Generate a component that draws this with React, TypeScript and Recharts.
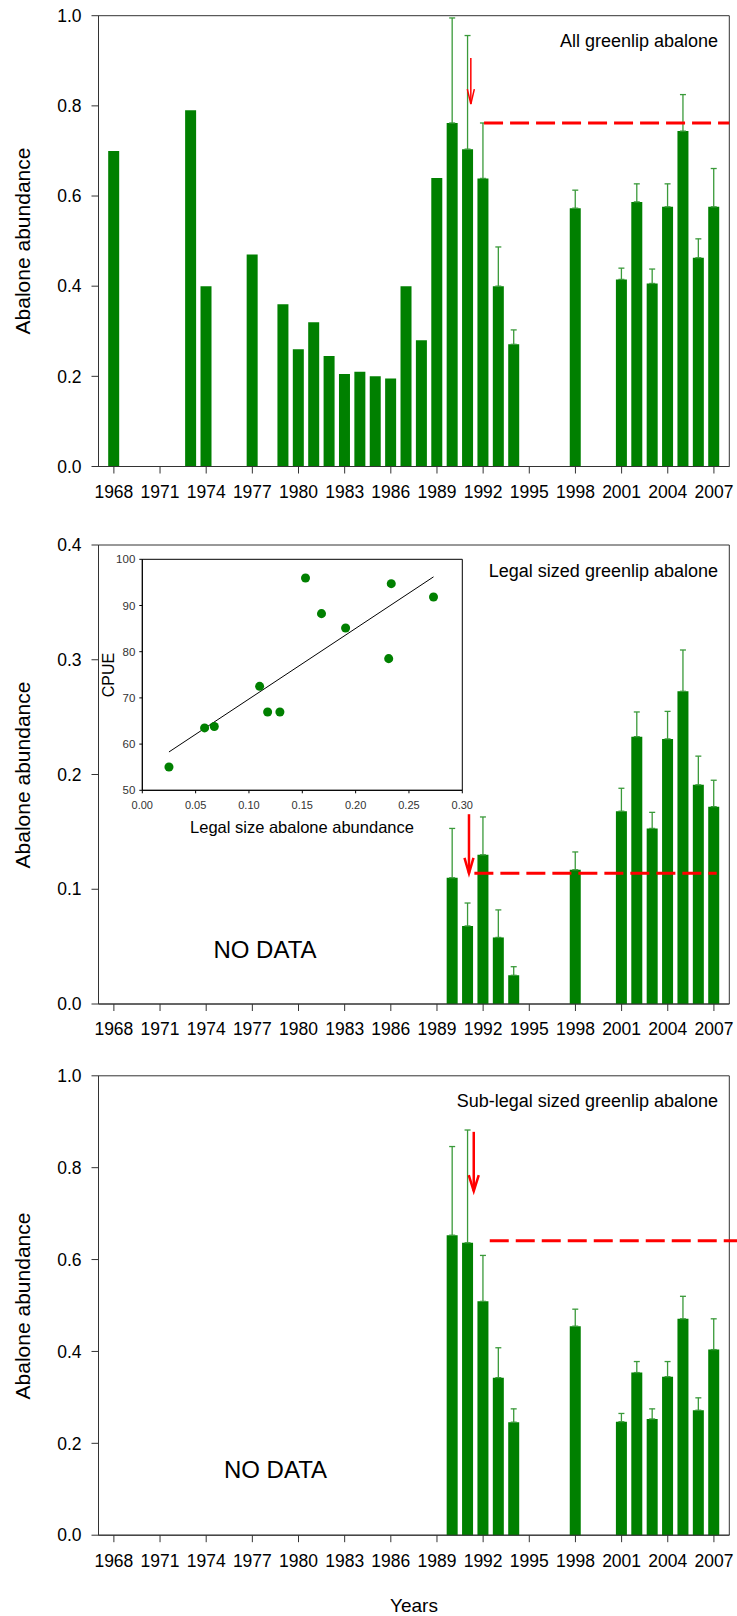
import React from 'react';
import {
  Bar,
  BarChart,
  ErrorBar,
  ReferenceArea,
  ReferenceLine,
  Scatter,
  ScatterChart,
  XAxis,
  YAxis,
  ZAxis,
} from 'recharts';

// x axis of the three bar panels
const yearTicks = [1968, 1971, 1974, 1977, 1980, 1983, 1986, 1989, 1992, 1995, 1998, 2001, 2004, 2007];
const yearDomain = [1967, 2008];

// panel 1: all greenlip abalone
const allYears = [
  1968, 1973, 1974, 1977, 1979, 1980, 1981, 1982, 1983, 1984, 1985, 1986, 1987, 1988, 1989,
  1990, 1991, 1992, 1993, 1994, 1998, 2001, 2002, 2003, 2004, 2005, 2006, 2007,
];
const allValues = [
  0.7, 0.79, 0.4, 0.47, 0.36, 0.26, 0.32, 0.245, 0.205, 0.21, 0.2, 0.195, 0.4, 0.28, 0.64,
  0.762, 0.704, 0.639, 0.4, 0.271, 0.573, 0.415, 0.587, 0.406, 0.576, 0.744, 0.463, 0.576,
];
const allErrors = [
  null, null, null, null, null, null, null, null, null, null, null, null, null, null, null,
  0.233, 0.252, 0.123, 0.087, 0.032, 0.04, 0.025, 0.04, 0.032, 0.051, 0.081, 0.042, 0.085,
];

// panels 2 and 3 share the survey years
const surveyYears = [1990, 1991, 1992, 1993, 1994, 1998, 2001, 2002, 2003, 2004, 2005, 2006, 2007];
const legalValues = [0.11, 0.068, 0.13, 0.058, 0.025, 0.117, 0.168, 0.233, 0.153, 0.231, 0.2725, 0.191, 0.172];
const legalErrors = [0.043, 0.02, 0.033, 0.024, 0.0075, 0.0155, 0.02, 0.0215, 0.014, 0.024, 0.036, 0.025, 0.023];
const subValues = [0.653, 0.6365, 0.509, 0.343, 0.246, 0.455, 0.247, 0.354, 0.253, 0.345, 0.471, 0.272, 0.404];
const subErrors = [0.193, 0.2455, 0.1, 0.065, 0.029, 0.037, 0.018, 0.024, 0.022, 0.033, 0.049, 0.027, 0.067];

// red reference levels (dashed) and arrows: [start year, end year, level]
const allLevel = [1992.06, 2008, 0.762];
const legalLevel = [1991.43, 2007.18, 0.1139];
const subLevel = [1992.43, 2008.5, 0.641];
// arrows: [year, from, to]
const allArrow = [1991.2, 0.906, 0.804];
const legalArrow = [1991.08, 0.1654, 0.1139];
const subArrow = [1991.39, 0.878, 0.749];

// inset: CPUE vs legal size abundance
const insetX = [0.025, 0.0584, 0.0675, 0.11, 0.1175, 0.129, 0.153, 0.168, 0.1906, 0.231, 0.2334, 0.273];
const insetY = [55.05, 63.5, 63.8, 72.5, 66.95, 66.95, 95.96, 88.24, 85.14, 78.5, 94.73, 91.85];
const fitX = [0.025, 0.273];
const fitY = [58.3, 96.2];
const insetXTicks = [0, 0.05, 0.1, 0.15, 0.2, 0.25, 0.3];
const insetYTicks = [50, 60, 70, 80, 90, 100];

const GREEN = '#008000';
const ERR = '#3a9a3a';
const RED = '#ff0000';
const AXIS = '#333';
const FONT = "'Liberation Sans', Arial, sans-serif";

function rows(years: number[], values: number[], errors: (number | null)[]) {
  return years.map((year, i) => ({
    year,
    value: values[i],
    err: errors[i] == null ? null : [0, errors[i]],
  }));
}

function arrowShape(head: number, half: number, width: number) {
  return (props: any) => {
    const { x1, y1, x2, y2 } = props;
    const a = Math.atan2(y2 - y1, x2 - x1);
    const bx = x2 - head * Math.cos(a);
    const by = y2 - head * Math.sin(a);
    const px = -Math.sin(a) * half;
    const py = Math.cos(a) * half;
    return (
      <g>
        <line x1={x1} y1={y1} x2={x2} y2={y2} stroke={RED} strokeWidth={width} />
        <polyline
          points={`${bx + px},${by + py} ${x2},${y2} ${bx - px},${by - py}`}
          fill="none"
          stroke={RED}
          strokeWidth={width}
        />
      </g>
    );
  };
}

interface PanelProps {
  top: number;
  height: number;
  marginTop: number;
  marginBottom: number;
  data: { year: number; value: number; err: number[] | null }[];
  yMax: number;
  yTicks: number[];
  level: number[];
  arrow: number[];
  arrowHead: [number, number, number];
}

function Panel({ top, height, marginTop, marginBottom, data, yMax, yTicks, level, arrow, arrowHead }: PanelProps) {
  return (
    <div style={{ position: 'absolute', left: 0, top }}>
      <BarChart
        width={737}
        height={height}
        data={data}
        margin={{ top: marginTop, right: 7.7, bottom: marginBottom, left: 38.5 }}
      >
        <ReferenceArea x1={yearDomain[0]} x2={yearDomain[1]} y1={0} y2={yMax} fill="none" stroke={AXIS} strokeWidth={1} />
        <XAxis
          dataKey="year"
          type="number"
          domain={yearDomain}
          ticks={yearTicks}
          interval={0}
          allowDataOverflow
          height={40}
          tickSize={7}
          tickMargin={12}
          stroke={AXIS}
          tick={{ fill: '#000', fontSize: 17.5 }}
        />
        <YAxis
          type="number"
          domain={[0, yMax]}
          ticks={yTicks}
          interval={0}
          width={60}
          tickSize={7}
          tickMargin={10}
          stroke={AXIS}
          tick={{ fill: '#000', fontSize: 17.5 }}
          tickFormatter={(v: number) => v.toFixed(1)}
        />
        <Bar dataKey="value" fill={GREEN} barSize={11} isAnimationActive={false}>
          <ErrorBar dataKey="err" direction="y" width={3} stroke={ERR} strokeWidth={1.3} />
        </Bar>
        <ReferenceLine
          segment={[{ x: level[0], y: level[2] }, { x: level[1], y: level[2] }]}
          stroke={RED}
          strokeWidth={3}
          strokeDasharray="19 7"
          ifOverflow="visible"
        />
        <ReferenceLine
          segment={[{ x: arrow[0], y: arrow[1] }, { x: arrow[0], y: arrow[2] }]}
          stroke={RED}
          ifOverflow="visible"
          shape={arrowShape(arrowHead[0], arrowHead[1], arrowHead[2])}
        />
      </BarChart>
    </div>
  );
}

function Inset() {
  const pts = insetX.map((x, i) => ({ x, y: insetY[i] }));
  return (
    <div style={{ position: 'absolute', left: 60, top: 530 }}>
      <ScatterChart width={440} height={320} margin={{ top: 29.3, right: 37.7, bottom: 29.7, left: 42.3 }}>
        <ReferenceArea x1={0} x2={0.3} y1={50} y2={100} fill="none" stroke="#000" strokeWidth={1} />
        <XAxis
          dataKey="x"
          type="number"
          domain={[0, 0.3]}
          ticks={insetXTicks}
          interval={0}
          height={30}
          tickSize={3}
          tickMargin={7.7}
          stroke="#000"
          tick={{ fill: '#333', fontSize: 11 }}
          tickFormatter={(v: number) => v.toFixed(2)}
        />
        <YAxis
          dataKey="y"
          type="number"
          domain={[50, 100]}
          ticks={insetYTicks}
          interval={0}
          width={40}
          tickSize={3}
          tickMargin={4}
          stroke="#000"
          tick={{ fill: '#333', fontSize: 11.5 }}
        />
        <ZAxis range={[30, 30]} />
        <ReferenceLine
          segment={[{ x: fitX[0], y: fitY[0] }, { x: fitX[1], y: fitY[1] }]}
          stroke="#000"
          strokeWidth={1}
        />
        <Scatter data={pts} fill={GREEN} isAnimationActive={false} />
      </ScatterChart>
    </div>
  );
}

export default function App() {
  return (
    <div style={{ position: 'absolute', left: 0, top: 0, width: 737, height: 1616, fontFamily: FONT, background: '#fff' }}>
      <Panel
        top={0}
        height={520}
        marginTop={15.7}
        marginBottom={13.5}
        data={rows(allYears, allValues, allErrors)}
        yMax={1}
        yTicks={[0, 0.2, 0.4, 0.6, 0.8, 1]}
        level={allLevel}
        arrow={allArrow}
        arrowHead={[15, 3.5, 1.5]}
      />
      <Panel
        top={520}
        height={540}
        marginTop={25}
        marginBottom={16}
        data={rows(surveyYears, legalValues, legalErrors)}
        yMax={0.4}
        yTicks={[0, 0.1, 0.2, 0.3, 0.4]}
        level={legalLevel}
        arrow={legalArrow}
        arrowHead={[15.5, 4.5, 2.5]}
      />
      <Panel
        top={1060}
        height={556}
        marginTop={15.8}
        marginBottom={40.8}
        data={rows(surveyYears, subValues, subErrors)}
        yMax={1}
        yTicks={[0, 0.2, 0.4, 0.6, 0.8, 1]}
        level={subLevel}
        arrow={subArrow}
        arrowHead={[16, 5, 2.5]}
      />
      <Inset />
      <svg
        width={737}
        height={1616}
        style={{ position: 'absolute', left: 0, top: 0, pointerEvents: 'none' }}
        fontFamily={FONT}
      >
        <text x={718} y={40.7} textAnchor="end" dominantBaseline="central" fontSize={18} fill="#000">
          All greenlip abalone
        </text>
        <text x={718} y={571.3} textAnchor="end" dominantBaseline="central" fontSize={18} fill="#000">
          Legal sized greenlip abalone
        </text>
        <text x={718} y={1100.7} textAnchor="end" dominantBaseline="central" fontSize={18} fill="#000">
          Sub-legal sized greenlip abalone
        </text>
        <text x={265} y={949} textAnchor="middle" dominantBaseline="central" fontSize={24} fill="#000">
          NO DATA
        </text>
        <text x={275.5} y={1469} textAnchor="middle" dominantBaseline="central" fontSize={24} fill="#000">
          NO DATA
        </text>
        {[241, 775, 1306].map((cy) => (
          <text
            key={cy}
            x={22}
            y={cy}
            transform={`rotate(-90 22 ${cy})`}
            textAnchor="middle"
            dominantBaseline="central"
            fontSize={21}
            fill="#000"
          >
            Abalone abundance
          </text>
        ))}
        <text x={108.5} y={675} transform="rotate(-90 108.5 675)" textAnchor="middle" dominantBaseline="central" fontSize={16} fill="#000">
          CPUE
        </text>
        <text x={302} y={827} textAnchor="middle" dominantBaseline="central" fontSize={16.5} fill="#000">
          Legal size abalone abundance
        </text>
        <text x={414} y={1605} textAnchor="middle" dominantBaseline="central" fontSize={19} fill="#000">
          Years
        </text>
      </svg>
    </div>
  );
}
